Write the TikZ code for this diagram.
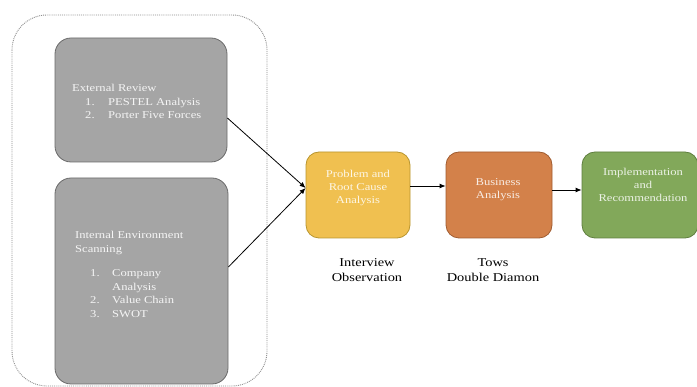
\documentclass[tikz,border=0pt]{standalone}
\usepackage{fontspec}
\setmainfont[FakeStretch=1.2]{Liberation Serif}
\usetikzlibrary{arrows.meta}
\definecolor{grayfill}{HTML}{A5A5A5}
\definecolor{grayline}{HTML}{6A6A6A}
\definecolor{yelfill}{HTML}{F0C050}
\definecolor{yelline}{HTML}{B8952E}
\definecolor{orfill}{HTML}{D3814A}
\definecolor{orline}{HTML}{A05C30}
\definecolor{grfill}{HTML}{82A85A}
\definecolor{grline}{HTML}{5E7E3E}
\tikzset{
  graybox/.style={draw=grayline, fill=grayfill, line width=0.8pt, rounded corners=16pt, inner sep=0pt},
  stagebox/.style={line width=0.8pt, rounded corners=13pt, minimum height=86pt, inner sep=0pt},
  stagetext/.style={align=center, inner sep=0pt, font=\fontsize{10.5}{13}\selectfont},
  boxtext/.style={text=white!92!gray, align=left, anchor=north west, inner sep=0pt,
     font=\fontsize{10.5}{13.5}\selectfont},
  undertext/.style={align=center, inner sep=0pt, font=\fontsize{12}{15}\selectfont},
  arr/.style={draw=black, line width=0.8pt, -{Latex[length=6pt,width=5pt]}},
}
\begin{document}
\begin{tikzpicture}[x=1pt,y=-1pt]
\useasboundingbox (0,0) rectangle (697,387);
% outer container
\draw[black!45, densely dotted, line width=0.9pt, rounded corners=35pt] (12,15) rectangle (267,386);
% left boxes
\node[graybox, minimum width=172pt, minimum height=124pt] (ext) at (141,100) {};
\node[graybox, minimum width=173pt, minimum height=206pt] (int) at (141.5,281) {};
\node[boxtext] (exttext) at (72,84.5) {External Review\\
  \hspace*{13pt}\makebox[23pt][l]{1.}PESTEL Analysis\\
  \hspace*{13pt}\makebox[23pt][l]{2.}Porter Five Forces};
\node[boxtext] (inttext) at (75,231.5) {Internal Environment\\
  Scanning\\[11pt]
  \hspace*{15pt}\makebox[22pt][l]{1.}Company\\
  \hspace*{37pt}Analysis\\
  \hspace*{15pt}\makebox[22pt][l]{2.}Value Chain\\
  \hspace*{15pt}\makebox[22pt][l]{3.}SWOT};
% stage boxes
\node[stagebox, draw=yelline, fill=yelfill, minimum width=104pt] (prob) at (358,195) {};
\node[stagebox, draw=orline, fill=orfill, minimum width=106pt] (bus) at (499,195) {};
\node[stagebox, draw=grline, fill=grfill, minimum width=116pt] (impl) at (640,195) {};
\node[stagetext, text=white!85!yelfill] (probtext) at (358,188) {Problem and\\Root Cause\\Analysis};
\node[stagetext, text=white!85!orfill] (bustext) at (498,189.5) {Business\\Analysis};
\node[stagetext, text=white!85!grfill] (impltext) at (643,185) {Implementation\\and\\Recommendation};
% labels under
\node[undertext] (lab1) at (367,270) {Interview\\Observation};
\node[undertext] (lab2) at (493,270) {Tows\\Double Diamon};
% arrows
\draw[arr] (ext.east |- 0,118) -- (prob.west |- 0,188);
\draw[arr] (int.east |- 0,267) -- (prob.west |- 0,188);
\draw[arr] (prob.east |- 0,186) -- (bus.west |- 0,186);
\draw[arr] (bus.east |- 0,190) -- (impl.west |- 0,190);
\end{tikzpicture}
\end{document}
